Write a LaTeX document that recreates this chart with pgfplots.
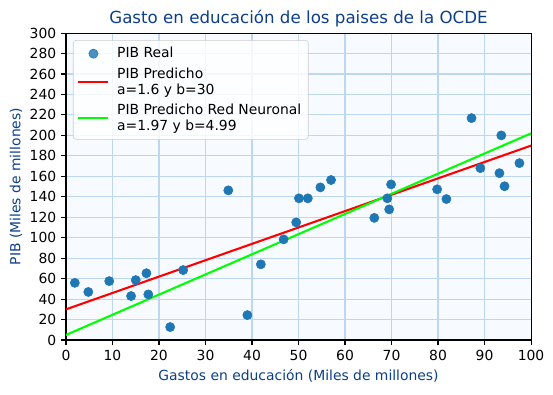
\documentclass[border=0pt]{standalone}
\usepackage{pgfplots}
\pgfplotsset{compat=1.18}
\usepackage{fontspec}
\setmainfont{DejaVu Sans}
\definecolor{ttl}{RGB}{12,62,138}
\definecolor{gridc}{RGB}{190,215,240}
\definecolor{bgc}{RGB}{247,250,255}
\definecolor{ptc}{HTML}{1F77B4}
\pgfplotsset{
  lineleg/.style={legend image code/.code={\draw[##1] (0pt,0pt) -- (21.6pt,0pt);}},
  dotleg/.style={legend image code/.code={\draw[##1] plot coordinates {(10.8pt,0pt)};}},
}
\begin{document}
\begin{tikzpicture}
\begin{axis}[
  scale only axis,
  width=334.8pt, height=221pt,
  xmin=0, xmax=100, ymin=0, ymax=300,
  xtick={0,10,...,100}, ytick={0,20,...,300},
  grid=major,
  major grid style={gridc, line width=0.8pt},
  axis background/.style={fill=bgc},
  axis line style={black, line width=0.8pt},
  tick style={black, line width=0.8pt},
  tick align=outside,
  major tick length=3.5pt,
  xtick pos=bottom, ytick pos=left,
  tick label style={font=\fontsize{10}{12}\selectfont},
  /pgf/number format/assume math mode=true,
  title={Gasto en educación de los paises de la OCDE},
  title style={font=\fontsize{12}{14}\selectfont, text=ttl, yshift=-5.5pt},
  xlabel={Gastos en educación (Miles de millones)},
  ylabel={PIB (Miles de millones)},
  label style={font=\fontsize{10}{12}\selectfont, text=ttl},
  xlabel style={yshift=0pt},
  ylabel style={yshift=-1.5pt},
  legend cell align=left,
  legend style={font=\fontsize{10}{11.5}\selectfont, draw=black!20, rounded corners=2pt, fill=white, fill opacity=0.8, text opacity=1, at={(0.015,0.977)}, anchor=north west, inner xsep=3pt, inner ysep=3pt, row sep=1pt,
    /tikz/every odd column/.append style={column sep=3.5pt}},
]
\addplot[only marks, mark=*, mark size=3.3pt, color=ptc, mark options={fill=ptc, draw=ptc}, dotleg] coordinates {
(1.9,55.9) (4.8,47) (9.3,57.6) (14.0,43) (15.0,58.6) (17.3,65.3) (17.7,44.6)
(22.4,12.7) (25.2,68.4) (34.9,146.3) (39.0,24.4) (41.9,74) (46.8,98.4)
(49.5,115) (50.1,138.5) (52.0,138.5) (54.7,149.2) (57.0,156.4)
(66.3,119.4) (69.1,138.5) (69.5,127.7) (69.9,152.1) (79.8,147.3) (81.8,137.8)
(87.2,216.9) (89.1,168) (93.2,163.1) (93.6,200) (94.3,150.3) (97.5,172.9)
};
\addlegendentry{PIB Real}
\addplot[red, line width=1.5pt, lineleg] coordinates {(0,30) (100,190)};
\addlegendentry{\begin{tabular}[b]{@{}l@{}}PIB Predicho\\a=1.6 y b=30\end{tabular}}
\addplot[green, line width=1.5pt, lineleg] coordinates {(0,4.99) (100,201.99)};
\addlegendentry{\begin{tabular}[b]{@{}l@{}}PIB Predicho Red Neuronal\\a=1.97 y b=4.99\end{tabular}}
\end{axis}
\path ([shift={(-47.5pt,-38.9pt)}]current axis.south west) rectangle ([shift={(15.8pt,23.8pt)}]current axis.north east);
\end{tikzpicture}
\end{document}
